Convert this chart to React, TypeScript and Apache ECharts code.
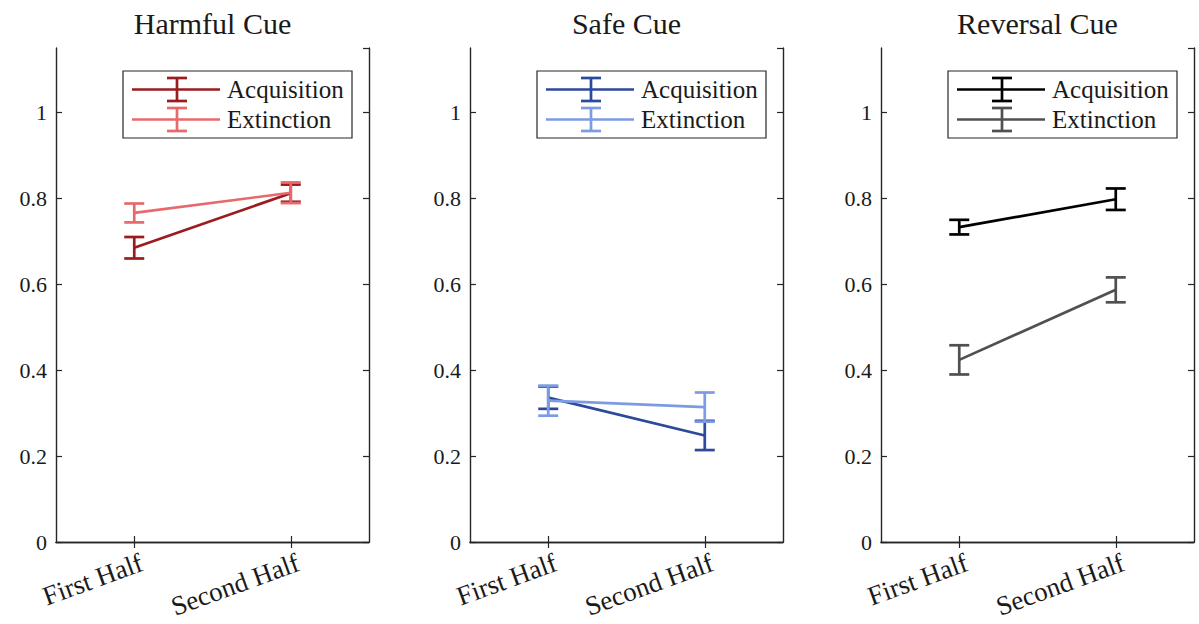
import React, { useEffect, useRef } from "react";
import * as echarts from "echarts";

const categories = ["First Half", "Second Half"];
const panelTitles = ["Harmful Cue", "Safe Cue", "Reversal Cue"];
const seriesNames = ["Acquisition", "Extinction"];

const harmfulAcqMean = [0.685, 0.812];
const harmfulAcqErr = [0.025, 0.02];
const harmfulExtMean = [0.766, 0.813];
const harmfulExtErr = [0.022, 0.024];

const safeAcqMean = [0.336, 0.248];
const safeAcqErr = [0.026, 0.034];
const safeExtMean = [0.329, 0.314];
const safeExtErr = [0.035, 0.034];

const revAcqMean = [0.733, 0.798];
const revAcqErr = [0.017, 0.025];
const revExtMean = [0.424, 0.587];
const revExtErr = [0.034, 0.029];

const yTicks = [0, 0.2, 0.4, 0.6, 0.8, 1];

const panelColors = [
  ["#9B1B1E", "#E8686B"],
  ["#2C4A9C", "#7D9BE2"],
  ["#000000", "#505050"],
];

const panelData = [
  [
    [harmfulAcqMean, harmfulAcqErr],
    [harmfulExtMean, harmfulExtErr],
  ],
  [
    [safeAcqMean, safeAcqErr],
    [safeExtMean, safeExtErr],
  ],
  [
    [revAcqMean, revAcqErr],
    [revExtMean, revExtErr],
  ],
];

const FONT = "Liberation Serif";
const AXIS_COLOR = "#262626";
const TEXT_COLOR = "#1a1a1a";
const gridLefts = [56, 470, 881];
const gridWidth = 313;
const gridTop = 48;
const gridHeight = 494;
const TICK_LEN = 6;

function errRender(color: string) {
  return (params: any, api: any) => {
    const x = api.value(0);
    const lo = api.value(1);
    const hi = api.value(2);
    const pLo = api.coord([x, lo]);
    const pHi = api.coord([x, hi]);
    const hw = 10;
    const style = { stroke: color, lineWidth: 2.7, fill: "none" };
    return {
      type: "group",
      children: [
        { type: "line", shape: { x1: pLo[0], y1: pLo[1], x2: pHi[0], y2: pHi[1] }, style },
        { type: "line", shape: { x1: pLo[0] - hw, y1: pLo[1], x2: pLo[0] + hw, y2: pLo[1] }, style },
        { type: "line", shape: { x1: pHi[0] - hw, y1: pHi[1], x2: pHi[0] + hw, y2: pHi[1] }, style },
      ],
    };
  };
}

export default function App() {
  const ref = useRef<HTMLDivElement>(null);
  useEffect(() => {
    if (!ref.current) return;
    const chart = echarts.init(ref.current, null, { renderer: "svg" });

    const grids: any[] = [];
    const xAxes: any[] = [];
    const yAxes: any[] = [];
    const series: any[] = [];
    const graphics: any[] = [];

    gridLefts.forEach((left, p) => {
      grids.push({
        left,
        top: gridTop,
        width: gridWidth,
        height: gridHeight,
        containLabel: false,
        outerBoundsMode: "none",
      });
      const axisLine = { show: true, lineStyle: { color: AXIS_COLOR, width: 1.4 } };
      const axisTick = { show: true, inside: true, length: TICK_LEN, alignWithLabel: true, lineStyle: { color: AXIS_COLOR, width: 1.2 } };
      xAxes.push({
        type: "category",
        gridIndex: p,
        data: categories,
        position: "bottom",
        boundaryGap: true,
        axisLine,
        axisTick,
        axisLabel: {
          rotate: 20,
          margin: 8,
          align: "right",
          verticalAlign: "top",
          padding: [0, -3, 0, 0],
          color: TEXT_COLOR,
          fontFamily: FONT,
          fontSize: 27,
        },
        splitLine: { show: false },
      });
      xAxes.push({
        type: "category",
        gridIndex: p,
        data: categories,
        position: "top",
        boundaryGap: true,
        axisLine,
        axisTick,
        axisLabel: { show: false },
        splitLine: { show: false },
      });
      const yBase = {
        type: "value",
        gridIndex: p,
        min: 0,
        max: 1.15,
        interval: 0.2,
        axisLine,
        axisTick: { show: true, inside: true, length: TICK_LEN, lineStyle: { color: AXIS_COLOR, width: 1.2 } },
        splitLine: { show: false },
      };
      yAxes.push({
        ...yBase,
        position: "left",
        axisLabel: {
          show: true,
          showMaxLabel: false,
          margin: 9,
          color: TEXT_COLOR,
          fontFamily: FONT,
          fontSize: 22,
          formatter: (v: number) => (yTicks.some((t) => Math.abs(t - v) < 1e-6) ? String(+v.toFixed(1)) : ""),
        },
      });
      yAxes.push({ ...yBase, position: "right", axisLabel: { show: false } });

      panelData[p].forEach(([mean, err], s) => {
        const color = panelColors[p][s];
        series.push({
          type: "line",
          name: panelTitles[p] + " " + seriesNames[s],
          xAxisIndex: 2 * p,
          yAxisIndex: 2 * p,
          data: mean,
          symbol: "none",
          lineStyle: { color, width: 2.7 },
          itemStyle: { color },
          z: 3 + s * 2,
        });
        series.push({
          type: "custom",
          name: panelTitles[p] + " " + seriesNames[s] + " err",
          xAxisIndex: 2 * p,
          yAxisIndex: 2 * p,
          data: mean.map((m: number, i: number) => [i, m - err[i], m + err[i]]),
          encode: { x: 0, y: [1, 2] },
          renderItem: errRender(color),
          z: 4 + s * 2,
        });
      });

      graphics.push({
        type: "text",
        x: left + gridWidth / 2,
        y: 23,
        style: {
          text: panelTitles[p],
          fontFamily: FONT,
          fontSize: 30,
          fill: TEXT_COLOR,
          textAlign: "center",
          textVerticalAlign: "middle",
        },
      });

      const bx = left + 67;
      graphics.push({
        type: "rect",
        shape: { x: bx, y: 71, width: 229, height: 67 },
        style: { fill: "#fff", stroke: AXIS_COLOR, lineWidth: 1.2 },
        z: 20,
      });
      [89.5, 119.5].forEach((cy, s) => {
        const color = panelColors[p][s];
        const st = { stroke: color, lineWidth: 2.7 };
        const cx = bx + 54;
        graphics.push({ type: "line", shape: { x1: bx + 9, y1: cy, x2: bx + 97, y2: cy }, style: st, z: 21 });
        graphics.push({ type: "line", shape: { x1: cx, y1: cy - 11.5, x2: cx, y2: cy + 11.5 }, style: st, z: 21 });
        graphics.push({ type: "line", shape: { x1: cx - 10, y1: cy - 11.5, x2: cx + 10, y2: cy - 11.5 }, style: st, z: 21 });
        graphics.push({ type: "line", shape: { x1: cx - 10, y1: cy + 11.5, x2: cx + 10, y2: cy + 11.5 }, style: st, z: 21 });
        graphics.push({
          type: "text",
          x: bx + 104,
          y: cy,
          style: {
            text: seriesNames[s],
            fontFamily: FONT,
            fontSize: 25,
            fill: TEXT_COLOR,
            textAlign: "left",
            textVerticalAlign: "middle",
          },
          z: 21,
        });
      });
    });

    chart.setOption({
      animation: false,
      backgroundColor: "#ffffff",
      grid: grids,
      xAxis: xAxes,
      yAxis: yAxes,
      series,
      graphic: graphics,
    });
    return () => chart.dispose();
  }, []);
  return (
    <div
      ref={ref}
      style={{ position: "absolute", left: 0, top: 0, width: 1199, height: 624 }}
    />
  );
}
